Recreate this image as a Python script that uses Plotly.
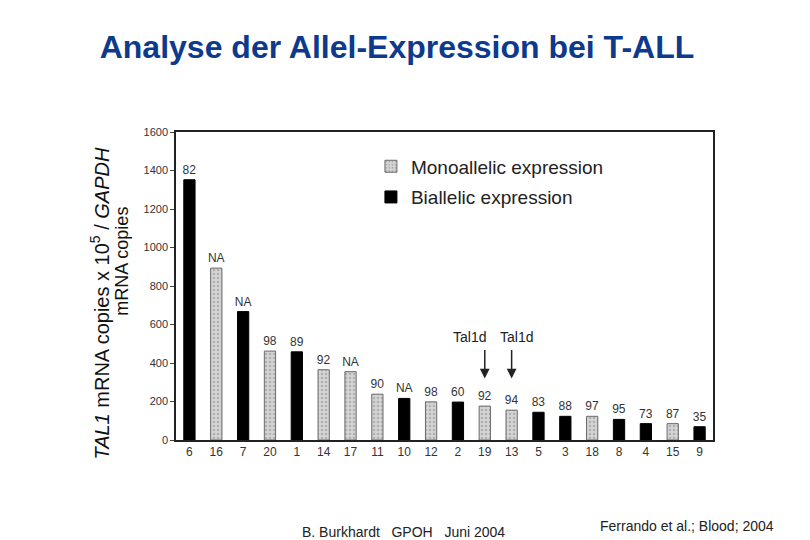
import plotly.graph_objects as go

# patient numbers along the x axis, in plotted order
patients = ["6", "16", "7", "20", "1", "14", "17", "11", "10", "12",
            "2", "19", "13", "5", "3", "18", "8", "4", "15", "9"]
# TAL1 mRNA copies x 10^5 / GAPDH mRNA copies
values = [1352, 893, 667, 462, 458, 365, 355, 238, 216, 198,
          197, 176, 155, 144, 123, 123, 107, 85, 85, 69]
# M = monoallelic, B = biallelic
expression = ["B", "M", "B", "M", "B", "M", "M", "M", "B", "M",
              "B", "M", "M", "B", "B", "M", "B", "B", "M", "B"]
# labels printed above the bars
bar_labels = ["82", "NA", "NA", "98", "89", "92", "NA", "90", "NA", "98",
              "60", "92", "94", "83", "88", "97", "95", "73", "87", "35"]
tal1d_patients = ["19", "13"]
tal1d_shift = [-15, 5]

FONT = "Liberation Sans, Arial, sans-serif"

fig = go.Figure()

for key, name in [("M", "Monoallelic expression"), ("B", "Biallelic expression")]:
    idx = [i for i, e in enumerate(expression) if e == key]
    if key == "M":
        marker = dict(
            color="#cfcfcf",
            line=dict(color="#6a6a6a", width=1),
            pattern=dict(shape=".", fgcolor="#8a8a8a", bgcolor="#d4d4d4", size=4, solidity=0.3),
        )
    else:
        marker = dict(color="#000000", line=dict(color="#000000", width=1))
    fig.add_trace(
        go.Bar(
            x=[patients[i] for i in idx],
            y=[values[i] for i in idx],
            text=[bar_labels[i] for i in idx],
            textposition="outside",
            constraintext="none",
            textfont=dict(family=FONT, size=12, color="#333333"),
            cliponaxis=False,
            marker=marker,
            width=0.42,
            name=name,
            legendgroup=key,
        )
    )

for p, shift in zip(tal1d_patients, tal1d_shift):
    pos = patients.index(p)  # category index, strings would be read as numbers
    fig.add_annotation(
        x=pos, y=320, text="", showarrow=True, arrowhead=2, arrowsize=1.3, arrowwidth=1.5,
        arrowcolor="#222222", ax=0, ay=-30,
    )
    fig.add_annotation(
        x=pos, y=533, text="Tal1d", showarrow=False, xshift=shift,
        font=dict(family=FONT, size=14, color="#222222"),
    )

# y-axis title, two lines
fig.add_annotation(
    xref="paper", yref="paper", x=-0.1415, y=0.443, xanchor="center", yanchor="middle",
    text="<i>TAL1</i> mRNA copies x 10<sup>5</sup> / <i>GAPDH</i>",
    textangle=-90, showarrow=False, font=dict(family=FONT, size=20, color="#111111"),
)
fig.add_annotation(
    xref="paper", yref="paper", x=-0.1, y=0.58, xanchor="center", yanchor="middle",
    text="mRNA copies",
    textangle=-90, showarrow=False, font=dict(family=FONT, size=18, color="#111111"),
)

fig.add_annotation(
    xref="paper", yref="paper", x=0.231, y=-0.3, xanchor="left", yanchor="middle",
    text="B. Burkhardt   GPOH   Juni 2004", showarrow=False,
    font=dict(family=FONT, size=14, color="#222222"),
)
fig.add_annotation(
    xref="paper", yref="paper", x=0.786, y=-0.28, xanchor="left", yanchor="middle",
    text="Ferrando et al.; Blood; 2004", showarrow=False,
    font=dict(family=FONT, size=14, color="#222222"),
)

fig.update_xaxes(
    type="category", categoryorder="array", categoryarray=patients,
    showline=True, linecolor="#222222", linewidth=1.5, mirror=True,
    ticks="", tickfont=dict(family=FONT, size=12, color="#333333"),
)
fig.update_yaxes(
    range=[0, 1600], dtick=200, showgrid=False, zeroline=False,
    showline=True, linecolor="#222222", linewidth=1.5, mirror=True,
    ticks="outside", ticklen=4, tickcolor="#444444",
    tickfont=dict(family=FONT, size=11, color="#333333"),
)

# page body adds an 8px offset, so the figure is 8px smaller than the window
fig.update_layout(
    width=802, height=532,
    margin=dict(l=168, r=97, t=124, b=100),
    paper_bgcolor="white", plot_bgcolor="white",
    title=dict(
        text="<b>Analyse der Allel-Expression bei T-ALL</b>",
        x=0.485, xanchor="center", y=0.927, yanchor="middle",
        font=dict(family=FONT, size=32, color="#0d3a8c"),
    ),
    legend=dict(
        x=0.363, y=0.95, xanchor="left", yanchor="top",
        font=dict(family=FONT, size=19, color="#222222"),
        bgcolor="rgba(0,0,0,0)", traceorder="grouped", tracegroupgap=3,
    ),
    showlegend=True,
)

fig.write_html("out.html")
